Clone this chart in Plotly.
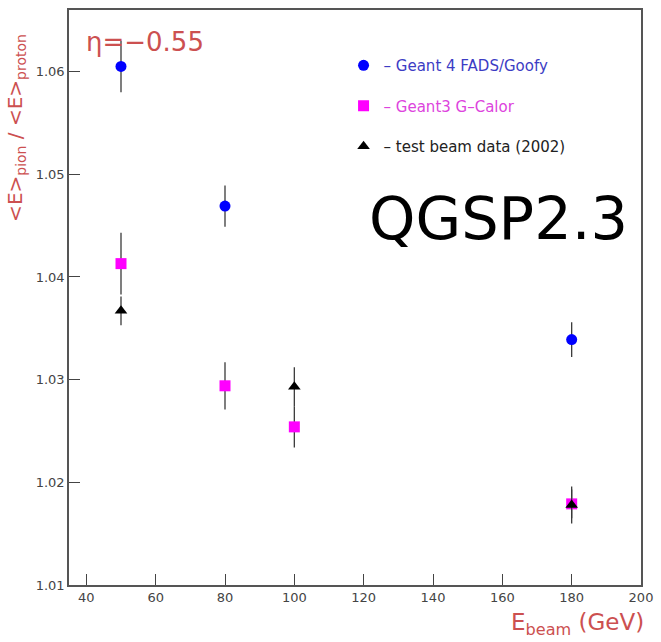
import plotly.graph_objects as go

# Data
g4_energy = [50, 80, 180]
g4_ratio = [1.0605, 1.0469, 1.0339]
g4_err = [0.0025, 0.0020, 0.0017]

g3_energy = [50, 80, 100, 180]
g3_ratio = [1.0413, 1.0294, 1.0254, 1.0179]
g3_err = [0.0030, 0.0023, 0.0020, 0.0014]

tb_energy = [50, 100, 180]
tb_ratio = [1.0367, 1.0293, 1.0178]
tb_err = [0.0014, 0.0019, 0.0018]

x_ticks = [40, 60, 80, 100, 120, 140, 160, 180, 200]
y_ticks = [1.01, 1.02, 1.03, 1.04, 1.05, 1.06]

RED = "#cc5050"
ERRC = "#3a3a3a"

fig = go.Figure()

fig.add_trace(go.Scatter(
    x=g4_energy, y=g4_ratio, mode="markers",
    name="<span style='color:#3c3cc4'>\u2013 Geant 4 FADS/Goofy</span>",
    legendgroup="g4",
    marker=dict(symbol="circle", size=11, color="#0000ff"),
    error_y=dict(type="data", array=g4_err, color=ERRC, thickness=1.3, width=0),
))
fig.add_trace(go.Scatter(
    x=g3_energy, y=g3_ratio, mode="markers",
    name="<span style='color:#dd44dd'>\u2013 Geant3 G\u2013Calor</span>",
    legendgroup="g3",
    marker=dict(symbol="square", size=11, color="#ff00ff"),
    error_y=dict(type="data", array=g3_err, color=ERRC, thickness=1.3, width=0),
))
fig.add_trace(go.Scatter(
    x=tb_energy, y=tb_ratio, mode="markers",
    name="<span style='color:#222222'>\u2013 test beam data (2002)</span>",
    legendgroup="tb",
    marker=dict(symbol="triangle-up", size=11, color="#000000"),
    error_y=dict(type="data", array=tb_err, color=ERRC, thickness=1.3, width=0),
))

axis_common = dict(
    showline=True, linecolor="#555555", linewidth=1.5, mirror=True,
    ticks="inside", ticklen=11, tickwidth=1.3, tickcolor="#444444",
    showgrid=False, zeroline=False,
    tickfont=dict(family="DejaVu Sans", size=13, color="#444444"),
)

fig.update_layout(
    width=661, height=642,
    margin=dict(l=69, r=16, t=8, b=57),
    paper_bgcolor="white", plot_bgcolor="white",
    xaxis=dict(range=[35, 200], tickvals=x_ticks, ticktext=[str(v) for v in x_ticks], **axis_common),
    yaxis=dict(range=[1.01, 1.066], tickvals=y_ticks, ticktext=[f"{v:.2f}" for v in y_ticks], **axis_common),
    showlegend=True,
    legend=dict(
        x=0.48, y=0.932, xanchor="left", yanchor="top",
        bgcolor="rgba(0,0,0,0)", borderwidth=0,
        font=dict(family="DejaVu Sans", size=15),
        tracegroupgap=18, itemwidth=30,
    ),
    annotations=[
        dict(text="\u03b7=\u22120.55", xref="paper", yref="paper", x=0.026, y=0.945,
             xanchor="left", yanchor="middle", showarrow=False,
             font=dict(family="DejaVu Sans", size=26, color=RED)),
        dict(text="QGSP2.3", xref="paper", yref="paper", x=0.750, y=0.638,
             xanchor="center", yanchor="middle", showarrow=False,
             font=dict(family="DejaVu Sans", size=59, color="black")),
        dict(text="&lt;E&gt;<sub>pion</sub> / &lt;E&gt;<sub>proton</sub>",
             xref="paper", yref="paper", x=0, y=0.795, xshift=-53,
             xanchor="center", yanchor="middle", textangle=-90, showarrow=False,
             font=dict(family="DejaVu Sans", size=20, color=RED)),
        dict(text="E<sub>beam</sub> (GeV)", xref="paper", yref="paper", x=1, y=0, xshift=5, yshift=-39,
             xanchor="right", yanchor="middle", showarrow=False,
             font=dict(family="DejaVu Sans", size=23, color=RED)),
    ],
)

fig.write_html("out.html")
